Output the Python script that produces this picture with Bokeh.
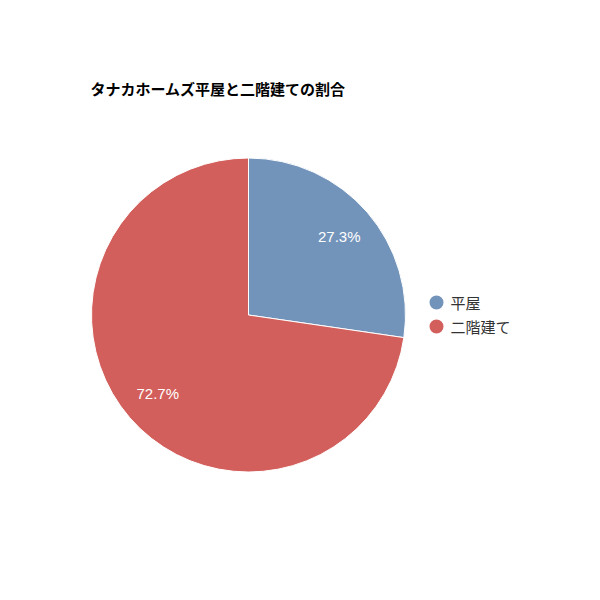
import math
from bokeh.plotting import figure
from bokeh.models import Range1d, ColumnDataSource
from bokeh.core.properties import value
from bokeh.embed import file_html
from bokeh.resources import INLINE

title_text = "タナカホームズ平屋と二階建ての割合"
categories = ["平屋", "二階建て"]
shares = [27.3, 72.7]
colors = ["#7394ba", "#d35f5c"]

W, H = 584, 584
p = figure(width=W, height=H, output_backend="svg", toolbar_location=None,
           x_range=Range1d(0, W), y_range=Range1d(0, H), min_border=0)
p.axis.visible = False
p.grid.visible = False
p.outline_line_color = None
p.background_fill_color = "white"

def py(page_y):
    return H - page_y

def px(page_x):
    return page_x

cx, cy, r = px(248), py(314.5), 157
total = sum(shares)
starts, ends, mids = [], [], []
acc = 0.0
for s in shares:
    a0 = math.pi / 2 - acc / total * 2 * math.pi
    acc += s
    a1 = math.pi / 2 - acc / total * 2 * math.pi
    starts.append(a0)
    ends.append(a1)
    mids.append((a0 + a1) / 2)

src = ColumnDataSource(dict(x=[cx] * len(shares), y=[cy] * len(shares),
                            start=starts, end=ends, color=colors))
p.wedge(x="x", y="y", radius=r, start_angle="end", end_angle="start",
        fill_color="color", line_color="white", line_width=1, source=src)

lr = 120
lab = ColumnDataSource(dict(x=[cx + lr * math.cos(m) for m in mids],
                            y=[cy + lr * math.sin(m) for m in mids],
                            t=[f"{s:.1f}%" for s in shares]))
p.text(x="x", y="y", text="t", source=lab, text_color="white",
       text_font=value("Liberation Sans"), text_font_size="15px",
       text_align="center", text_baseline="middle")

p.text(x=[px(90)], y=[py(88)], text=[title_text], text_font=value("Noto Sans CJK JP"),
       text_font_size="15px", text_font_style="bold", text_color="#000000",
       text_align="left", text_baseline="middle")

leg_y = [py(302 + 24 * i) for i in range(len(categories))]
p.scatter(x=[px(436)] * len(categories), y=leg_y, size=14, marker="circle",
          fill_color=colors, line_color=None)
p.text(x=[px(450)] * len(categories), y=leg_y, text=categories,
       text_font=value("Noto Sans CJK JP"), text_font_size="15px", text_color="#333333",
       text_align="left", text_baseline="middle")

open("out.html", "w").write(file_html(p, INLINE))
